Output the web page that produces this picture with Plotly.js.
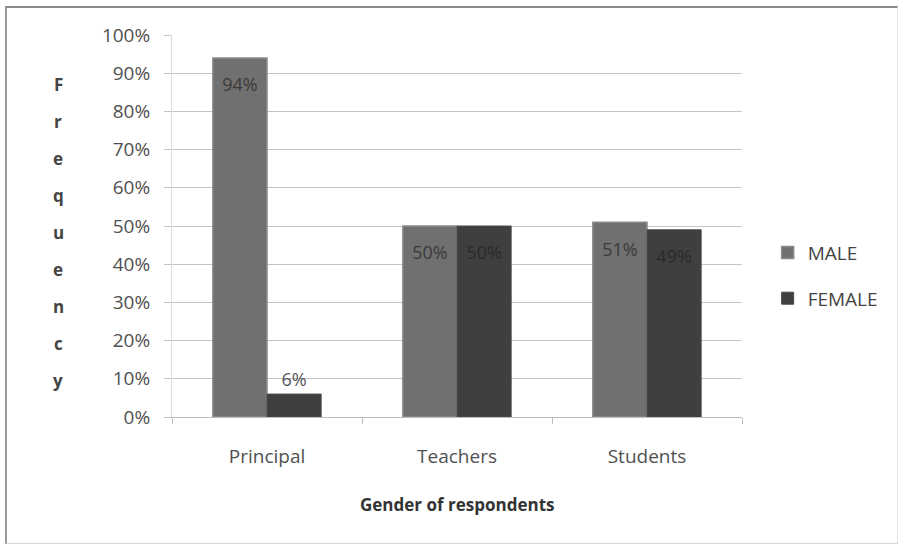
<!DOCTYPE html>
<html>
<head>
<meta charset="utf-8">
<script src="https://cdn.plot.ly/plotly-3.0.1.min.js"></script>
<style>
html,body{margin:0;padding:0;background:#fff;}
#frame{position:absolute;left:5px;top:6px;width:893px;height:538px;border-left:2px solid #9a9a9a;border-top:2px solid #8a8a8a;border-right:1px solid #e4e4e4;border-bottom:1px solid #d8d8d8;box-sizing:border-box;}
#chart{position:absolute;left:0;top:0;width:901px;height:548px;}
</style>
</head>
<body>
<div id="frame"></div>
<div id="chart"></div>
<script>
const categories = ["Principal", "Teachers", "Students"];
const maleValues = [94, 50, 51];
const femaleValues = [6, 50, 49];
const seriesNames = ["MALE", "FEMALE"];
const yTickValues = [0, 10, 20, 30, 40, 50, 60, 70, 80, 90, 100];
const yTickLabels = ["0%", "10%", "20%", "30%", "40%", "50%", "60%", "70%", "80%", "90%", "100%"];
const yTitle = "Frequency";
const xTitle = "Gender of respondents";

const FONT = "'Open Sans', Lato, sans-serif";
const SPACER = "<span style='font-size:7px'>&nbsp;</span><br>";

const traces = [
  {
    type: "bar", name: seriesNames[0], x: categories, y: maleValues,
    text: maleValues.map(v => SPACER + v + "%"), textposition: "inside", insidetextanchor: "end",
    constraintext: "none", cliponaxis: false,
    textfont: {family: FONT, size: 18, color: "#3a3a3a"},
    marker: {color: "#707070", line: {color: "#8a8a8a", width: 1.5}},
    legendgroup: "m", hoverinfo: "none"
  },
  {
    type: "bar", name: seriesNames[1], x: categories, y: femaleValues,
    text: femaleValues.map((v, i) => i === 0 ? v + "%" : SPACER + v + "%"),
    textposition: ["outside", "inside", "inside"], insidetextanchor: "end",
    constraintext: "none", cliponaxis: false,
    textfont: {family: FONT, size: 18, color: "#2a2a2a"},
    outsidetextfont: {family: FONT, size: 18, color: "#555555"},
    marker: {color: "#3f3f3f", line: {color: "#4a4a4a", width: 1}},
    legendgroup: "f", hoverinfo: "none"
  }
];

const letters = yTitle.split("");
const annotations = letters.map((ch, i) => ({
  text: ch, xref: "paper", yref: "paper",
  x: -0.2, y: 0.87 - i * (0.775 / (letters.length - 1)),
  showarrow: false, xanchor: "center", yanchor: "middle",
  font: {family: FONT, size: 17, color: "#444444", weight: "bold"}
}));
annotations.push({
  text: "<b>" + xTitle + "</b>", xref: "paper", yref: "paper",
  x: 0.5, y: -0.23, showarrow: false, xanchor: "center", yanchor: "middle",
  font: {family: FONT, size: 17, color: "#333333"}
});

const layout = {
  width: 901, height: 548,
  margin: {l: 172, r: 159, t: 35, b: 131, pad: 0},
  paper_bgcolor: "rgba(0,0,0,0)", plot_bgcolor: "rgba(0,0,0,0)",
  barmode: "group", bargap: 0.43, bargroupgap: 0,
  showlegend: true,
  legend: {
    x: 1.045, y: 0.48, xanchor: "left", yanchor: "top",
    traceorder: "grouped", tracegroupgap: 18,
    font: {family: FONT, size: 19, color: "#444444"},
    itemwidth: 30
  },
  xaxis: {
    type: "category", tickson: "boundaries", ticks: "outside", ticklen: 6,
    tickcolor: "#bdbdbd", showline: true, linecolor: "#bdbdbd", linewidth: 1,
    showgrid: false, ticklabelstandoff: 22,
    tickfont: {family: FONT, size: 19, color: "#505050"}
  },
  yaxis: {
    range: [0, 100], tickvals: yTickValues, ticktext: yTickLabels,
    ticks: "outside", ticklen: 7, tickcolor: "#c4c4c4",
    showline: true, linecolor: "#dddddd", linewidth: 1,
    showgrid: true, gridcolor: "#c4c4c4", gridwidth: 1, zeroline: false,
    ticklabelstandoff: 10,
    tickfont: {family: FONT, size: 19, color: "#505050"}
  },
  annotations: annotations
};

Plotly.newPlot("chart", traces, layout, {displayModeBar: false, staticPlot: true});
</script>
</body>
</html>
